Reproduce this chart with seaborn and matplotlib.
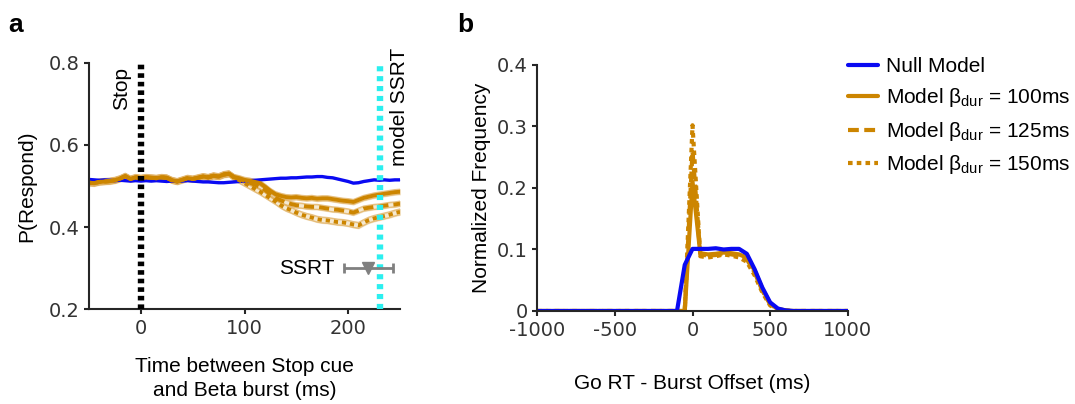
import numpy as np
import pandas as pd
import matplotlib
matplotlib.use("Agg")
import matplotlib.pyplot as plt
from matplotlib.lines import Line2D
import seaborn as sns

# ---------------- panel a: P(Respond) vs burst timing ----------------
time_ms = list(range(-50, 255, 5))

p_null = [0.516, 0.515, 0.514, 0.515, 0.514, 0.513, 0.514, 0.513, 0.512, 0.513,
          0.512, 0.513, 0.512, 0.513, 0.512, 0.511, 0.512, 0.511, 0.512, 0.513,
          0.512, 0.511, 0.510, 0.510, 0.509, 0.508, 0.508, 0.509, 0.510, 0.511,
          0.512, 0.513, 0.514, 0.515, 0.516, 0.517, 0.518, 0.519, 0.519, 0.520,
          0.520, 0.521, 0.522, 0.522, 0.523, 0.523, 0.521, 0.520, 0.517, 0.514,
          0.511, 0.507, 0.508, 0.511, 0.513, 0.515, 0.514, 0.515, 0.514, 0.515,
          0.515]

p_early = [0.508, 0.507, 0.510, 0.511, 0.512, 0.514, 0.518, 0.524, 0.517, 0.521,
           0.519, 0.521, 0.520, 0.519, 0.521, 0.520, 0.514, 0.511, 0.515, 0.519,
           0.517, 0.520, 0.523, 0.521, 0.525, 0.523, 0.528, 0.530]

p_100 = p_early + [0.522, 0.519, 0.515,
                   0.513, 0.510, 0.507, 0.498, 0.488, 0.480, 0.476, 0.473, 0.472, 0.473,
                   0.471, 0.470, 0.471, 0.469, 0.470, 0.470, 0.468, 0.466, 0.464, 0.463,
                   0.461, 0.466, 0.471, 0.474, 0.477, 0.479, 0.481, 0.483, 0.485, 0.486]

p_125 = p_early + [0.521, 0.517, 0.512,
                   0.508, 0.503, 0.498, 0.490, 0.480, 0.471, 0.465, 0.460, 0.456, 0.453,
                   0.452, 0.450, 0.449, 0.449, 0.447, 0.445, 0.443, 0.442, 0.440, 0.438,
                   0.435, 0.440, 0.445, 0.447, 0.449, 0.450, 0.452, 0.454, 0.455, 0.457]

p_150 = p_early + [0.520, 0.514, 0.507,
                   0.500, 0.493, 0.486, 0.478, 0.470, 0.462, 0.453, 0.446, 0.441, 0.435,
                   0.430, 0.426, 0.423, 0.419, 0.417, 0.416, 0.414, 0.412, 0.411, 0.409,
                   0.406, 0.404, 0.411, 0.417, 0.421, 0.424, 0.427, 0.430, 0.434, 0.437]

sem_null = 0.002
sem_models = [0.006, 0.006, 0.007]

stop_time = 0
model_ssrt = 231
ssrt_mean = 219.5
ssrt_err = 23.5
ssrt_level = 0.30

# ---------------- panel b: Go RT - burst offset histograms ----------------
offset_ms = list(range(-1000, 1050, 50))
zeros_pre = [0.0] * 18   # -1000 ... -150

freq_null = zeros_pre + [0.0, 0.075, 0.101, 0.101, 0.101, 0.102, 0.100, 0.101, 0.101,
                         0.093, 0.068, 0.038, 0.014, 0.004, 0.001] + [0.0] * 8
freq_100 = zeros_pre + [0.0, 0.0, 0.210, 0.094, 0.092, 0.093, 0.095, 0.094, 0.092,
                        0.087, 0.066, 0.036, 0.012, 0.003, 0.001] + [0.0] * 8
freq_125 = zeros_pre + [0.0, 0.0, 0.260, 0.092, 0.090, 0.091, 0.094, 0.092, 0.090,
                        0.084, 0.063, 0.033, 0.011, 0.003, 0.001] + [0.0] * 8
freq_150 = zeros_pre + [0.0, 0.0, 0.302, 0.089, 0.087, 0.089, 0.092, 0.090, 0.087,
                        0.080, 0.058, 0.030, 0.009, 0.002, 0.0] + [0.0] * 8

legend_labels = ["Null Model",
                 r"Model β$_{\mathrm{dur}}$ = 100ms",
                 r"Model β$_{\mathrm{dur}}$ = 125ms",
                 r"Model β$_{\mathrm{dur}}$ = 150ms"]

# ---------------- styling ----------------
BLUE = "#0A0AF2"
ORANGE = "#CC8500"
CYAN = "#2BEFEF"
GREY = "#808080"
SPINE = "#262626"

sns.set_style("ticks")
plt.rcParams.update({
    "font.family": ["Liberation Sans", "DejaVu Sans"],
    "mathtext.fontset": "custom",
    "mathtext.rm": "Liberation Sans",
    "mathtext.it": "Liberation Sans:italic",
    "axes.unicode_minus": False,
    "text.color": "black",
    "axes.labelcolor": "black",
    "axes.edgecolor": SPINE,
    "axes.linewidth": 1.5,
    "xtick.color": SPINE,
    "ytick.color": SPINE,
    "xtick.major.width": 1.5,
    "ytick.major.width": 1.5,
    "xtick.major.size": 3.5,
    "ytick.major.size": 3.5,
})

LS = {"100": "-", "125": (0, (2.6, 1.3)), "150": (0, (1.1, 1.0))}

fig = plt.figure(figsize=(10.75, 4.04), dpi=100)
ax_a = fig.add_axes([0.0828, 0.2351, 0.2893, 0.6090])
ax_b = fig.add_axes([0.4998, 0.2302, 0.2888, 0.6090])

# ---- panel a ----
df_a = pd.DataFrame({"t": time_ms, "null": p_null, "m100": p_100,
                     "m125": p_125, "m150": p_150})

ax_a.fill_between(df_a["t"], df_a["null"] - sem_null, df_a["null"] + sem_null,
                  color=BLUE, alpha=0.25, lw=0)
sns.lineplot(data=df_a, x="t", y="null", ax=ax_a, color=BLUE, linewidth=2.4,
             legend=False)

for key, sem, ls in zip(["m100", "m125", "m150"], sem_models,
                        [LS["100"], LS["125"], LS["150"]]):
    ax_a.fill_between(df_a["t"], df_a[key] - sem, df_a[key] + sem,
                      facecolor=ORANGE, alpha=0.18, edgecolor=ORANGE, lw=1.0)
    ax_a.fill_between(df_a["t"], df_a[key] - sem, df_a[key] + sem,
                      facecolor="none", edgecolor="#E3B56A", lw=1.0, alpha=0.8)
    sns.lineplot(data=df_a, x="t", y=key, ax=ax_a, color=ORANGE,
                 linewidth=2.8, linestyle=ls, legend=False)

ax_a.axvline(stop_time, color="black", lw=4.6, linestyle=(0, (0.72, 0.62)),
             zorder=5)
ax_a.axvline(model_ssrt, color=CYAN, lw=4.6, linestyle=(0, (0.8, 0.75)),
             zorder=5)

ax_a.errorbar([ssrt_mean], [ssrt_level], xerr=[ssrt_err], fmt="v", color=GREY,
              ms=8, lw=2, capsize=3.5, capthick=2, zorder=6)
ax_a.text(187, ssrt_level, "SSRT", ha="right", va="center", fontsize=15)
ax_a.text(-9, 0.985, "Stop", rotation=90, ha="right", va="top", fontsize=15,
          transform=ax_a.get_xaxis_transform())
ax_a.text(259, 1.062, "model SSRT", rotation=90, ha="right", va="top",
          fontsize=15, transform=ax_a.get_xaxis_transform())

ax_a.set_xlim(-50, 250)
ax_a.set_ylim(0.2, 0.8)
ax_a.set_xticks([0, 100, 200])
ax_a.set_yticks([0.2, 0.4, 0.6, 0.8])
ax_a.set_xlabel("Time between Stop cue\nand Beta burst (ms)", fontsize=15,
                labelpad=14, linespacing=1.35)
ax_a.set_ylabel("P(Respond)", fontsize=15, labelpad=9)

# ---- panel b ----
df_b = pd.DataFrame({"offset": offset_ms, "null": freq_null, "m100": freq_100,
                     "m125": freq_125, "m150": freq_150})

for key, ls in zip(["m100", "m125", "m150"], [LS["100"], LS["125"], LS["150"]]):
    sns.lineplot(data=df_b, x="offset", y=key, ax=ax_b, color=ORANGE,
                 linewidth=3.0, linestyle=ls, legend=False)
sns.lineplot(data=df_b, x="offset", y="null", ax=ax_b, color=BLUE,
             linewidth=3.0, legend=False)

ax_b.set_xlim(-1000, 1000)
ax_b.set_ylim(0, 0.4)
ax_b.set_xticks([-1000, -500, 0, 500, 1000])
ax_b.set_yticks([0, 0.1, 0.2, 0.3, 0.4])
ax_b.set_yticklabels(["0", "0.1", "0.2", "0.3", "0.4"])
ax_b.set_xlabel("Go RT - Burst Offset (ms)", fontsize=15, labelpad=25)
ax_b.set_ylabel("Normalized Frequency", fontsize=15, labelpad=4)

for ax in (ax_a, ax_b):
    sns.despine(ax=ax)
    ax.tick_params(labelfontfamily="DejaVu Sans", labelsize=14,
                   labelcolor="#333333")

handles = [Line2D([], [], color=BLUE, lw=3.0),
           Line2D([], [], color=ORANGE, lw=3.0, linestyle=LS["100"]),
           Line2D([], [], color=ORANGE, lw=3.0, linestyle=LS["125"]),
           Line2D([], [], color=ORANGE, lw=3.0, linestyle=LS["150"])]
fig.legend(handles, legend_labels, loc="upper left",
           bbox_to_anchor=(848 / 1075, 1 - 57 / 404), frameon=False,
           fontsize=15, handlelength=1.45, handletextpad=0.35,
           labelspacing=0.5, borderpad=0, borderaxespad=0)

fig.text(8 / 1075, 1 - 32 / 404, "a", fontsize=19, fontweight="bold",
         va="baseline")
fig.text(457 / 1075, 1 - 32 / 404, "b", fontsize=19, fontweight="bold",
         va="baseline")

fig.savefig("out.png", dpi=100)
